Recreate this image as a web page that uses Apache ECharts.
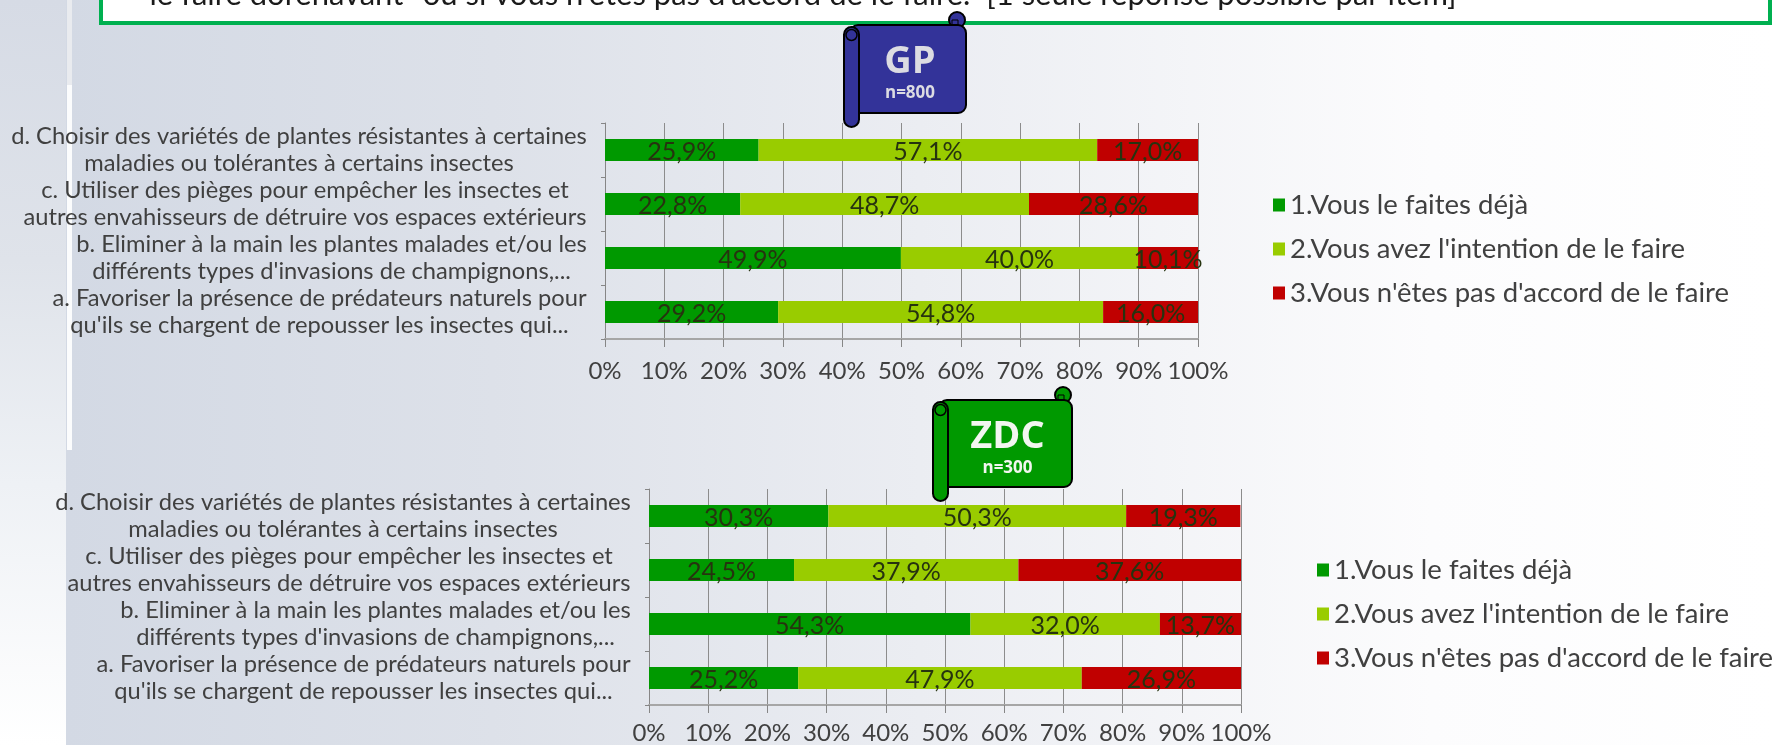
<!DOCTYPE html>
<html><head><meta charset="utf-8">
<style>html,body{margin:0;padding:0;background:#fff}#c{width:1773px;height:745px}</style>
<script src="https://cdn.jsdelivr.net/npm/echarts@6/dist/echarts.min.js"></script>
</head><body><div id="c"></div>
<script>
const categories = [
  "a. Favoriser la présence de prédateurs naturels pour\nqu'ils se chargent de repousser les insectes qui...",
  "b. Eliminer à la main les plantes malades et/ou les\ndifférents types d'invasions de champignons,...",
  "c. Utiliser des pièges pour empêcher les insectes et\nautres envahisseurs de détruire vos espaces extérieurs",
  "d. Choisir des variétés de plantes résistantes à certaines\nmaladies ou tolérantes à certains insectes"
];
const seriesNames = ["1.Vous le faites déjà", "2.Vous avez l'intention de le faire", "3.Vous n'êtes pas d'accord de le faire"];
const gpDeja = [29.2, 49.9, 22.8, 25.9];
const gpIntention = [54.8, 40.0, 48.7, 57.1];
const gpDesaccord = [16.0, 10.1, 28.6, 17.0];
const zdcDeja = [25.2, 54.3, 24.5, 30.3];
const zdcIntention = [47.9, 32.0, 37.9, 50.3];
const zdcDesaccord = [26.9, 13.7, 37.6, 19.3];
const headerText = "le faire dorénavant\" ou si vous n'êtes pas d'accord de le faire.  [1 seule réponse possible par item]";

const FONT = 'Lato, "Open Sans", sans-serif';
const colors = ['#009900', '#99cc00', '#c00000'];
const textCol = '#404040';
const catSize = 23.7;

const mctx = document.createElement('canvas').getContext('2d');
mctx.font = catSize + 'px Lato';
const rich = {};
categories.forEach(c => {
  const w = Math.max(...c.split('\n').map(l => mctx.measureText(l).width));
  rich[c[0]] = {width: Math.ceil(w), align: 'center', fontFamily: FONT, fontSize: catSize, color: textCol, lineHeight: 26.5};
});
const catFormatter = v => v.split('\n').map(l => '{' + v[0] + '|' + l + '}').join('\n');

function yAxis(i) {
  return {
    type: 'category', gridIndex: i, data: categories,
    axisLine: {show: true, lineStyle: {color: '#868686', width: 1}},
    axisTick: {show: true, length: 4, lineStyle: {color: '#868686'}},
    axisLabel: {margin: 18, formatter: catFormatter, rich, align: 'right', interval: 0}
  };
}
function xAxis(i, margin) {
  return {
    type: 'value', gridIndex: i, min: 0, max: 100, interval: 10,
    axisLine: {show: true, onZero: false, lineStyle: {color: '#a6a6a6', width: 2}},
    axisTick: {show: true, length: 8, lineStyle: {color: '#868686'}},
    splitLine: {show: true, lineStyle: {color: '#8c8c8c', width: 1}},
    axisLabel: {margin, fontFamily: FONT, fontSize: 24, color: textCol, formatter: '{value}%', hideOverlap: false}
  };
}
function bar(i, k, data) {
  return {
    type: 'bar', name: seriesNames[k], xAxisIndex: i, yAxisIndex: i, stack: 's' + i,
    data, barWidth: 22, itemStyle: {color: colors[k]},
    label: {show: true, position: 'inside', offset: [0, 2], fontFamily: FONT, fontSize: 25, color: '#26330f',
      formatter: p => p.value.toFixed(1).replace('.', ',') + '%'}
  };
}
function legend(left, top) {
  return {
    show: true, orient: 'vertical', left, top, data: seriesNames, icon: 'rect',
    itemWidth: 12, itemHeight: 13, itemGap: 16, align: 'left',
    textStyle: {fontFamily: FONT, fontSize: 27.5, color: textCol, lineHeight: 24}
  };
}
function scroll(x, y, fill, textFill, title, sub, w, h, tSize) {
  const s = '#000';
  const z = 100;
  return [
    {type: 'circle', z, shape: {cx: x + w - 9, cy: y - 5, r: 8}, style: {fill, stroke: s, lineWidth: 2}},
    {type: 'rect', z, shape: {x: x + 6, y, width: w - 6, height: h, r: 8}, style: {fill, stroke: s, lineWidth: 2}},
    {type: 'rect', z, shape: {x: x + w - 14, y: y - 5, width: 6, height: 5}, style: {fill: 'none', stroke: s, lineWidth: 1}},
    {type: 'rect', z, shape: {x, y: y + 2, width: 15, height: h + 12, r: 7.5}, style: {fill, stroke: s, lineWidth: 2}},
    {type: 'circle', z, shape: {cx: x + 7.5, cy: y + 10, r: 5.5}, style: {fill: 'none', stroke: s, lineWidth: 1.5}},
    {type: 'text', z, style: {x: x + w / 2 + 5, y: y + 37, text: title, align: 'center', verticalAlign: 'middle', fill: textFill,
      font: 'bold ' + tSize + 'px "Open Sans", sans-serif'}},
    {type: 'text', z, style: {x: x + w / 2 + 5, y: y + 68, text: sub, align: 'center', verticalAlign: 'middle', fill: textFill,
      font: 'bold 17px "Open Sans", sans-serif'}}
  ];
}

const hGrad = {type: 'linear', x: 0, y: 0, x2: 1, y2: 0, colorStops: [
  {offset: 0, color: '#d3d9e4'}, {offset: 0.25, color: '#dde1e9'}, {offset: 0.5, color: '#ebedf2'}, {offset: 0.8, color: '#fcfcfd'}, {offset: 1, color: '#ffffff'}]};
const vGrad = {type: 'linear', x: 0, y: 0, x2: 0, y2: 1, colorStops: [
  {offset: 0, color: '#d6dbe5'}, {offset: 0.35, color: '#dfe3ea'}, {offset: 0.65, color: '#eef1f5'}, {offset: 1, color: '#ffffff'}]};

const chart = echarts.init(document.getElementById('c'), null, {renderer: 'canvas'});
chart.setOption({
  animation: false,
  backgroundColor: '#ffffff',
  graphic: {elements: [
    {type: 'rect', z: -10, shape: {x: 0, y: 0, width: 67, height: 745}, style: {fill: vGrad}},
    {type: 'rect', z: -10, shape: {x: 66, y: 0, width: 1707, height: 745}, style: {fill: hGrad}},
    {type: 'rect', z: -9, shape: {x: 67, y: 0, width: 5, height: 85}, style: {fill: '#e9ebef'}},
    {type: 'rect', z: -9, shape: {x: 67, y: 85, width: 5, height: 365}, style: {fill: '#fbfcfd'}},
    {type: 'rect', z: 90, shape: {x: 101, y: -20, width: 1669, height: 43}, style: {fill: '#ffffff', stroke: '#00b050', lineWidth: 4}},
    {type: 'text', z: 91, style: {x: 803, y: 10, text: headerText, align: 'center', verticalAlign: 'bottom', fill: '#1a1a1a', font: '31px Lato, sans-serif'}},
    ...scroll(844, 25, '#333399', '#dcdce2', 'GP', 'n=800', 122, 88, 38),
    ...scroll(933, 400, '#009900', '#f2f6f0', 'ZDC', 'n=300', 139, 87, 38)
  ]},
  grid: [
    {left: 605, top: 123, width: 593, height: 216, containLabel: false},
    {left: 649, top: 489, width: 592, height: 217, containLabel: false}
  ],
  xAxis: [xAxis(0, 20), xAxis(1, 16)],
  yAxis: [yAxis(0), yAxis(1)],
  legend: [legend(1268, 186), legend(1312, 551)],
  series: [
    bar(0, 0, gpDeja), bar(0, 1, gpIntention), bar(0, 2, gpDesaccord),
    bar(1, 0, zdcDeja), bar(1, 1, zdcIntention), bar(1, 2, zdcDesaccord)
  ]
});
</script></body></html>
